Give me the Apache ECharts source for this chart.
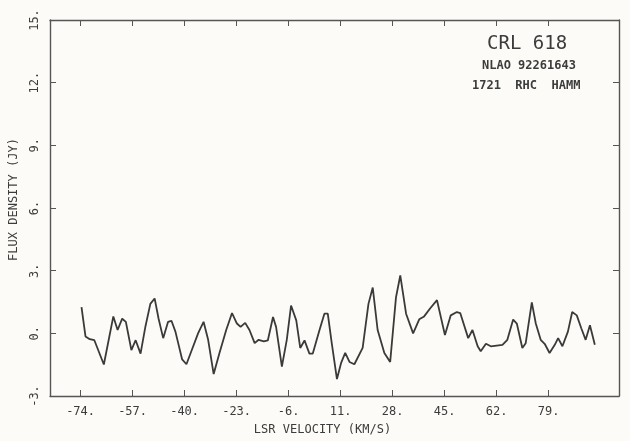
<!DOCTYPE html>
<html>
<head>
<meta charset="utf-8">
<script src="https://cdn.jsdelivr.net/npm/echarts@6/dist/echarts.min.js"></script>
<style>
html,body{margin:0;padding:0;background:#fcfbf7;}
#chart{width:630px;height:441px;}
</style>
</head>
<body>
<div id="chart"></div>
<script>
// LSR velocity (km/s) of traced spectrum vertices
var velocity = [-73.7,-72.4,-71.0,-69.5,-66.4,-63.3,-61.9,-60.4,-59.2,-57.4,-56.0,-54.4,-52.8,-51.2,-49.8,-48.5,-47.0,-45.4,-44.3,
  -43.0,-40.8,-39.4,-37.8,-35.6,-33.8,-32.3,-30.5,-28.6,-26.4,-24.5,-22.9,-21.7,-20.2,-18.8,-17.1,-15.8,-14.1,-12.8,-11.1,-10.1,
  -8.2,-6.6,-5.2,-3.5,-2.2,-0.8,0.8,1.9,4.1,5.7,6.8,8.1,9.8,11.2,12.5,13.9,15.5,18.2,20.1,21.5,23.1,25.3,27.2,29.1,30.5,32.4,
  34.7,36.7,38.3,40.3,42.5,45.1,47.0,49.0,50.1,52.7,54.1,55.8,56.8,58.5,60.1,63.9,65.5,67.4,68.6,70.4,71.5,73.5,74.8,76.4,77.7,
  79.3,81.0,82.1,83.5,85.3,86.7,88.2,89.7,91.1,92.5,94.1];
// Flux density (Jy)
var flux = [1.25,-0.15,-0.28,-0.33,-1.49,0.81,0.16,0.70,0.55,-0.8,-0.33,-0.97,0.33,1.41,1.67,0.70,-0.23,0.55,0.60,
  0.08,-1.25,-1.48,-0.86,0.0,0.55,-0.31,-1.95,-0.94,0.16,0.97,0.47,0.31,0.5,0.16,-0.47,-0.31,-0.39,-0.34,0.78,0.31,
  -1.59,-0.31,1.33,0.62,-0.7,-0.34,-0.97,-0.97,0.16,0.94,0.94,-0.47,-2.19,-1.4,-0.94,-1.37,-1.48,-0.7,1.41,2.19,0.16,-0.94,-1.37,1.72,2.77,0.94,
  0.0,0.67,0.81,1.2,1.59,-0.08,0.86,1.02,0.97,-0.23,0.16,-0.62,-0.86,-0.5,-0.62,-0.55,-0.31,0.66,0.47,-0.7,-0.47,1.48,0.47,-0.31,-0.5,
  -0.94,-0.55,-0.23,-0.62,0.08,1.02,0.86,0.23,-0.31,0.39,-0.55];
var xTicks = [-74,-57,-40,-23,-6,11,28,45,62,79];
var yTicks = [-3,0,3,6,9,12,15];
var titleLines = ['CRL 618','NLAO 92261643','1721  RHC  HAMM'];

var data = velocity.map(function(v,i){return [v, flux[i]];});
var ink = '#3c3c3c';
var font = 'DejaVu Sans Mono';
var chart = echarts.init(document.getElementById('chart'), null, {renderer:'canvas'});
var axisLineStyle = {color:'#555', width:1.4};
chart.setOption({
  backgroundColor:'#fcfbf7',
  animation:false,
  grid:{left:49, right:11, top:20, bottom:38, containLabel:false},
  xAxis:[{
    type:'value', min:-84, max:102, position:'bottom',
    axisLine:{show:true, onZero:false, lineStyle:axisLineStyle},
    axisTick:{show:true, inside:true, length:6, customValues:xTicks, lineStyle:{color:'#555'}},
    axisLabel:{customValues:xTicks, formatter:function(v){return v+'.';}, color:ink, fontFamily:font, fontSize:12, margin:10},
    splitLine:{show:false},
    name:'LSR VELOCITY (KM/S)', nameLocation:'middle', nameGap:28,
    nameTextStyle:{color:ink, fontFamily:font, fontSize:12, padding:[0,24,0,0]}
  },{
    type:'value', min:-84, max:102, position:'top',
    axisLine:{show:true, onZero:false, lineStyle:axisLineStyle},
    axisTick:{show:true, inside:true, length:6, customValues:xTicks, lineStyle:{color:'#555'}},
    axisLabel:{show:false}, splitLine:{show:false}
  }],
  yAxis:[{
    type:'value', min:yTicks[0], max:yTicks[yTicks.length-1], interval:3, position:'left',
    axisLine:{show:true, onZero:false, lineStyle:axisLineStyle},
    axisTick:{show:true, inside:true, length:6, lineStyle:{color:'#555'}},
    axisLabel:{rotate:90, formatter:function(v){return v+'.';}, color:ink, fontFamily:font, fontSize:12, margin:9},
    splitLine:{show:false},
    name:'FLUX DENSITY (JY)', nameLocation:'middle', nameGap:30, nameRotate:90,
    nameTextStyle:{color:ink, fontFamily:font, fontSize:12, padding:[0,0,0,17]}
  },{
    type:'value', min:yTicks[0], max:yTicks[yTicks.length-1], interval:3, position:'right',
    axisLine:{show:true, onZero:false, lineStyle:axisLineStyle},
    axisTick:{show:true, inside:true, length:6, lineStyle:{color:'#555'}},
    axisLabel:{show:false}, splitLine:{show:false}
  }],
  graphic:[
    {type:'text', left:487, top:35, style:{text:titleLines[0], fill:ink, font:'19px "DejaVu Sans Mono"'}},
    {type:'text', left:482, top:60, style:{text:titleLines[1], fill:ink, font:'bold 12px "DejaVu Sans Mono"'}},
    {type:'text', left:472, top:80, style:{text:titleLines[2], fill:ink, font:'bold 12px "DejaVu Sans Mono"'}}
  ],
  series:[{
    type:'line', xAxisIndex:0, yAxisIndex:0, data:data, showSymbol:false, smooth:false,
    lineStyle:{color:'#3a3a3a', width:1.8}
  }]
});
</script>
</body>
</html>
